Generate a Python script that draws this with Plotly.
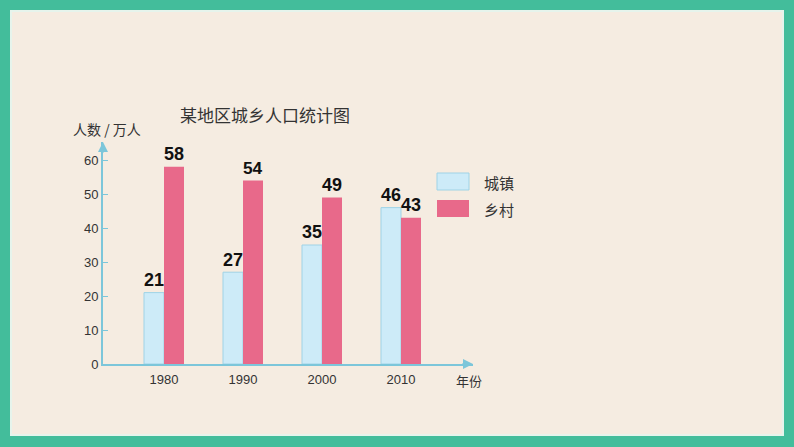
import plotly.graph_objects as go

years = ["1980", "1990", "2000", "2010"]
town = [21, 27, 35, 46]
rural = [58, 54, 49, 43]
y_ticks = [0, 10, 20, 30, 40, 50, 60]
title_text = "某地区城乡人口统计图"
y_title = "人数 / 万人"
x_title = "年份"
names = ["城镇", "乡村"]

W, H = 794, 447
L, R, T, B = 103, 473, 142, 364  # plot area in px

def px(x):
    return (x - L) / (R - L)

def py(y):
    return (B - y) / (B - T)

TOWN_FILL = "#CDEBF8"
TOWN_LINE = "#9FD3E6"
RURAL_FILL = "#E8698A"
AXIS = "#7CC6DA"
CREAM = "#F5ECE1"
TEAL = "#43BD9B"
TXT = "#333333"
CJK = "Noto Sans CJK SC"

label_font = dict(family="Liberation Sans", size=20, color="#111111", weight="bold")

fig = go.Figure()
fig.add_bar(x=years, y=town, name=names[0], marker=dict(color=TOWN_FILL, line=dict(color=TOWN_LINE, width=1)),
            text=town, texttemplate="<b>%{text}</b>", textposition="outside", cliponaxis=False,
            textfont=label_font, showlegend=False)
fig.add_bar(x=years, y=rural, name=names[1], marker=dict(color=RURAL_FILL, line=dict(width=0)),
            text=rural, texttemplate="<b>%{text}</b>", textposition="outside", cliponaxis=False,
            textfont=label_font, showlegend=False)

cat_w = 79.0
center0 = 164.0
xr0 = -(center0 - L) / cat_w
xr1 = (R - L) / cat_w + xr0
ymax = (B - T) / 3.4

shapes = [
    dict(type="rect", xref="paper", yref="paper", x0=px(11), x1=px(783), y0=py(435), y1=py(11),
         fillcolor=CREAM, line=dict(color="#E6F4EC", width=2), layer="below"),
    dict(type="rect", xref="paper", yref="paper", x0=px(437), x1=px(469), y0=py(190), y1=py(173),
         fillcolor=TOWN_FILL, line=dict(color=TOWN_LINE, width=1)),
    dict(type="rect", xref="paper", yref="paper", x0=px(437), x1=px(469), y0=py(217), y1=py(200),
         fillcolor=RURAL_FILL, line=dict(width=0)),
]

def txt(s, x, y, size):
    return dict(text=s, xref="paper", yref="paper", x=px(x), y=py(y), showarrow=False,
                xanchor="center", yanchor="middle", font=dict(family=CJK, size=size, color=TXT))

annotations = [
    txt(title_text, 265, 115, 17),
    txt(y_title, 107, 129, 14),
    txt(x_title, 469, 380, 13),
    txt(names[0], 499, 182, 15),
    txt(names[1], 499, 209, 15),
    # axis arrows
    dict(text="", xref="paper", yref="paper", x=0, y=1, ax=0, ay=12, showarrow=True,
         arrowhead=2, arrowsize=1, arrowwidth=2, arrowcolor=AXIS),
    dict(text="", xref="paper", yref="paper", x=1, y=0, ax=-12, ay=0, showarrow=True,
         arrowhead=2, arrowsize=1, arrowwidth=2, arrowcolor=AXIS),
]

fig.update_layout(
    width=W, height=H,
    margin=dict(l=L, r=W - R, t=T, b=H - B, pad=0),
    paper_bgcolor=TEAL, plot_bgcolor="rgba(0,0,0,0)",
    barmode="group", bargap=1 - 40 / cat_w, bargroupgap=0,
    shapes=shapes, annotations=annotations,
    xaxis=dict(type="category", range=[xr0, xr1], showline=True, linecolor=AXIS, linewidth=2,
               showgrid=False, zeroline=False, ticks="", ticklabelstandoff=2,
               tickfont=dict(family="Liberation Sans", size=13, color=TXT)),
    yaxis=dict(range=[0, ymax], tickvals=y_ticks, showline=True, linecolor=AXIS, linewidth=2,
               showgrid=False, zeroline=False, ticks="inside", ticklen=5, tickcolor=AXIS,
               tickfont=dict(family="Liberation Sans", size=13, color=TXT)),
    showlegend=False,
)

fig.write_html("out.html")
